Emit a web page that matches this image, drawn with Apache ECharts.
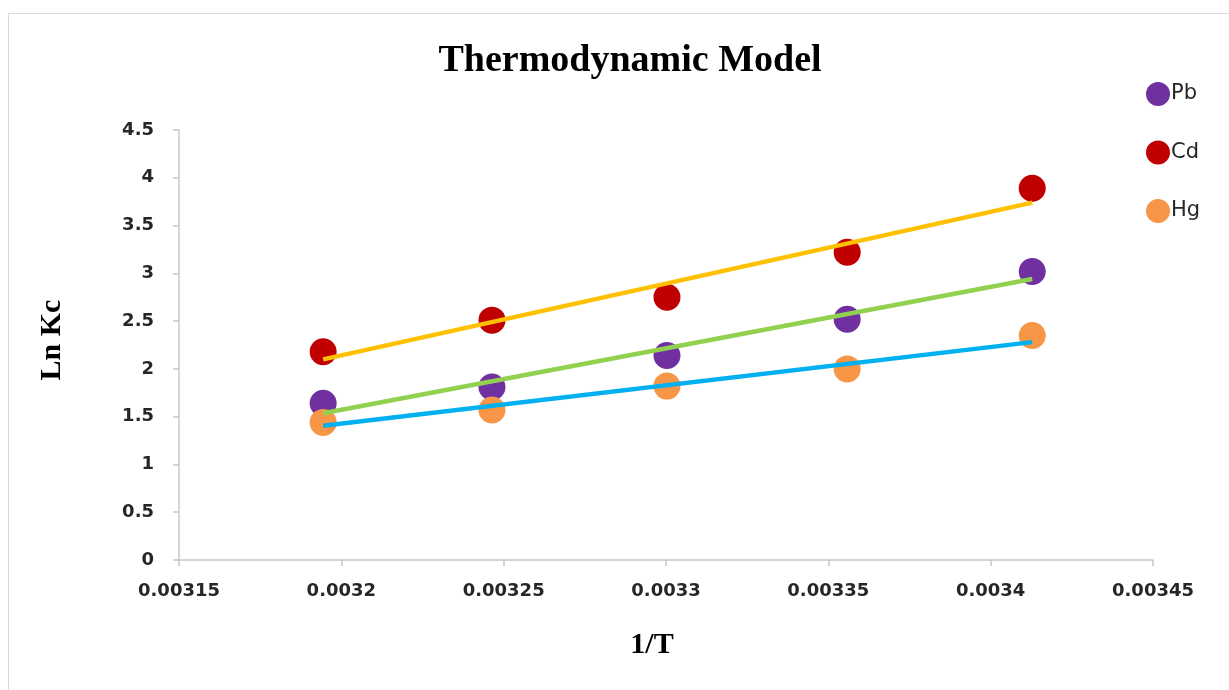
<!DOCTYPE html>
<html>
<head>
<meta charset="utf-8">
<title>Thermodynamic Model</title>
<script src="https://cdn.jsdelivr.net/npm/echarts@6/dist/echarts.min.js"></script>
<style>
  html, body { margin: 0; padding: 0; background: #fff; }
  #chart { width: 1229px; height: 690px; }
</style>
</head>
<body>
<div id="chart"></div>
<script>
// 1/T values (K^-1) for the five temperatures
const invT = [0.0031944, 0.0032464, 0.0033003, 0.0033558, 0.0034128];

// Ln Kc for each metal
const pbLnKc = [1.64, 1.81, 2.14, 2.52, 3.02];
const cdLnKc = [2.18, 2.51, 2.75, 3.22, 3.89];
const hgLnKc = [1.44, 1.57, 1.82, 2.00, 2.35];

// Linear trend line values at the first and last 1/T
const pbTrend = [1.535, 2.94];
const cdTrend = [2.10, 3.74];
const hgTrend = [1.405, 2.28];

const metalNames = ['Pb', 'Cd', 'Hg'];

const pairs = (xs, ys) => ys.map((y, i) => [xs[i], y]);
const trendEnds = (ys) => [[invT[0], ys[0]], [invT[invT.length - 1], ys[1]]];

const tickFont = { fontFamily: 'DejaVu Sans', fontWeight: 'bold', fontSize: 18, color: '#262626' };
const serifBold = { fontFamily: 'Liberation Serif', fontWeight: 'bold', color: '#000' };

const chart = echarts.init(document.getElementById('chart'), null, { renderer: 'canvas' });

chart.setOption({
  animation: false,
  backgroundColor: '#fff',
  graphic: [{
    type: 'rect',
    shape: { x: 8.5, y: 13.5, width: 1300, height: 800 },
    style: { fill: 'none', stroke: '#d9d9d9', lineWidth: 1 },
    silent: true
  }],
  title: {
    text: 'Thermodynamic Model',
    left: 625,
    top: 37,
    textAlign: 'center',
    textStyle: Object.assign({ fontSize: 38 }, serifBold)
  },
  legend: {
    data: metalNames,
    orient: 'vertical',
    left: 1141,
    top: 77,
    itemWidth: 24,
    itemHeight: 24,
    itemGap: 34.5,
    icon: 'circle',
    textStyle: { fontFamily: 'DejaVu Sans', fontSize: 21, color: '#262626', padding: [0, 0, 0, -4] }
  },
  grid: { left: 179, right: 76, top: 130, bottom: 130, containLabel: false },
  xAxis: {
    type: 'value',
    min: 0.00315,
    max: 0.00345,
    interval: 0.00005,
    name: '1/T',
    nameLocation: 'middle',
    nameGap: 70,
    nameTextStyle: Object.assign({ fontSize: 30, padding: [0, 28, 0, 0] }, serifBold),
    axisLine: { show: true, lineStyle: { color: '#c8c8c8', width: 1.5 } },
    axisTick: { show: true, length: 6, lineStyle: { color: '#c8c8c8', width: 1.5 } },
    axisLabel: Object.assign({ margin: 22, formatter: v => String(+v.toFixed(5)) }, tickFont),
    splitLine: { show: false }
  },
  yAxis: {
    type: 'value',
    min: 0,
    max: 4.5,
    interval: 0.5,
    name: 'Ln Kc',
    nameLocation: 'middle',
    nameGap: 112,
    nameRotate: 90,
    nameTextStyle: Object.assign({ fontSize: 30, padding: [0, 0, 0, 10] }, serifBold),
    axisLine: { show: true, lineStyle: { color: '#c8c8c8', width: 1.5 } },
    axisTick: { show: true, length: 6, lineStyle: { color: '#c8c8c8', width: 1.5 } },
    axisLabel: Object.assign({ margin: 25 }, tickFont),
    splitLine: { show: false }
  },
  series: [
    { name: 'Pb', type: 'scatter', data: pairs(invT, pbLnKc), symbolSize: 27, itemStyle: { color: '#7030A0', opacity: 1 }, z: 2 },
    { name: 'Cd', type: 'scatter', data: pairs(invT, cdLnKc), symbolSize: 27, itemStyle: { color: '#C00000', opacity: 1 }, z: 2 },
    { name: 'Hg', type: 'scatter', data: pairs(invT, hgLnKc), symbolSize: 27, itemStyle: { color: '#F79646', opacity: 1 }, z: 2 },
    { name: 'Pb trend', type: 'line', data: trendEnds(pbTrend), showSymbol: false, symbol: 'none', lineStyle: { color: '#92D050', width: 4.5 }, z: 3 },
    { name: 'Cd trend', type: 'line', data: trendEnds(cdTrend), showSymbol: false, symbol: 'none', lineStyle: { color: '#FFC000', width: 4.5 }, z: 3 },
    { name: 'Hg trend', type: 'line', data: trendEnds(hgTrend), showSymbol: false, symbol: 'none', lineStyle: { color: '#00B0F0', width: 4.5 }, z: 3 }
  ]
});
</script>
</body>
</html>
